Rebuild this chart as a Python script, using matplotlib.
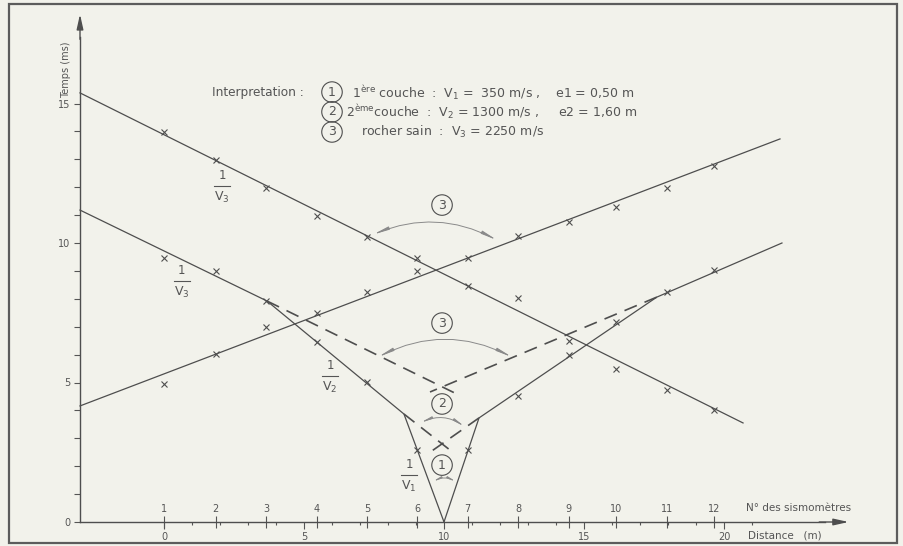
import numpy as np
import matplotlib.pyplot as plt
from matplotlib.patches import Rectangle

plt.rcParams['font.family'] = ['DejaVu Sans']

# sismometres : numero et distance (m)
sismo_num = list(range(1, 13))
sismo_dist = [0, 1.85, 3.65, 5.45, 7.25, 9.05, 10.85, 12.65, 14.45, 16.15, 17.95, 19.65]

# temps d'arrivee mesures (ms) pour les trois tirs
t_tir_gauche = [4.95, 6.02, 6.99, 7.49, 8.24, 9.0, 9.46, 10.25, 10.75, 11.29, 11.97, 12.76]
t_tir_droite = [13.98, 12.97, 11.97, 10.97, 10.2, 9.46, 8.46, 8.02, 6.49, 5.48, 4.73, 4.01]
t_tir_centre = [9.46, 9.0, 7.92, 6.45, 5.02, 2.58, 2.58, 4.52, 5.99, 7.17, 8.24, 9.03]

# droites d'interpretation (distance m, temps ms)
dr_gauche_d = [-3, 22.0]
dr_gauche_t = [4.16, 13.73]
dr_droite_d = [-3, 20.68]
dr_droite_t = [15.38, 3.55]
centre_g_d = [-3, 3.68, 8.57, 10]
centre_g_t = [11.18, 7.92, 3.87, 0]
centre_d_d = [10, 11.25, 17.6, 22.07]
centre_d_t = [0, 3.73, 8.06, 10.0]
# prolongements en tirets
ext_v3_g_d = [3.68, 10.35]
ext_v3_g_t = [7.92, 4.64]
ext_v3_d_d = [17.6, 9.5]
ext_v3_d_t = [8.06, 4.66]
ext_v2_g_d = [8.57, 10.25]
ext_v2_g_t = [3.87, 2.55]
ext_v2_d_d = [11.25, 9.6]
ext_v2_d_t = [3.73, 2.57]

dist_ticks = [0, 5, 10, 15, 20]
temps_ticks = [0, 5, 10, 15]

bg = '#f2f2eb'
c_line = '#4e4e4e'
c_txt = '#555555'
c_arc = '#8a8a8a'

fig = plt.figure(figsize=(9.04, 5.46), dpi=100, facecolor=bg)
ax = fig.add_axes([0, 0, 1, 1])
ax.set_facecolor('none')
ax.set_xlim(-164 / 28, 740 / 28)
ax.set_ylim(-24 / 27.9, 522 / 27.9)

# cadre
fig.add_artist(Rectangle((9 / 904, 3 / 546), 888 / 904, 539 / 546, transform=fig.transFigure,
                         fill=False, ec='#5c5c5c', lw=1.6))

# axes
for s in ['top', 'right']:
    ax.spines[s].set_visible(False)
ax.spines['left'].set_position(('data', -3))
ax.spines['bottom'].set_position(('data', 0))
ax.spines['left'].set_bounds(0, 17.4)
ax.spines['bottom'].set_bounds(-3, 23.6)
for s in ['left', 'bottom']:
    ax.spines[s].set_color(c_line)
    ax.spines[s].set_linewidth(1.0)
arr = dict(arrowstyle='-|>,head_length=0.9,head_width=0.2', color=c_line, lw=1.0, shrinkA=0, shrinkB=0)
ax.annotate('', xy=(24.45, 0), xytext=(23.4, 0), arrowprops=arr)
ax.annotate('', xy=(-3, 18.2), xytext=(-3, 17.3), arrowprops=arr)

ax.set_xticks(dist_ticks)
ax.set_xticks([d for d in range(1, 22) if d % 5], minor=True)
ax.set_yticks(temps_ticks)
ax.set_yticks([t for t in range(1, 15) if t % 5], minor=True)
ax.tick_params(axis='x', which='major', direction='out', length=5, width=0.8, pad=2,
               labelsize=7, colors=c_txt)
ax.tick_params(axis='x', which='minor', direction='out', length=2.5, width=0.8, colors=c_txt)
ax.tick_params(axis='y', which='both', direction='out', length=4, width=0.8, pad=3,
               labelsize=7, colors=c_txt)

# numeros des sismometres
y0, y1 = ax.get_ylim()
sec = ax.secondary_xaxis((0 - y0) / (y1 - y0))
sec.set_alignment('top')
sec.set_xticks(sismo_dist, labels=[str(n) for n in sismo_num])
sec.tick_params(direction='inout', length=9, width=0.8, pad=1, labelsize=7, colors=c_txt)
for s in sec.spines.values():
    s.set_visible(False)

ax.text(-3.5, 16.2, 'Temps (ms)', rotation=90, ha='center', va='center', fontsize=7, color=c_txt)
ax.text(20.8, 0.5, 'N° des sismomètres', ha='left', va='center', fontsize=7.5, color=c_txt)
ax.text(20.85, -0.5, 'Distance   (m)', ha='left', va='center', fontsize=7.5, color=c_txt)

# droites
kw = dict(color=c_line, lw=0.9)
ax.plot(dr_gauche_d, dr_gauche_t, **kw)
ax.plot(dr_droite_d, dr_droite_t, **kw)
ax.plot(centre_g_d, centre_g_t, **kw)
ax.plot(centre_d_d, centre_d_t, **kw)
kwd = dict(color=c_line, lw=1.2, ls=(0, (8, 5)))
ax.plot(ext_v3_g_d, ext_v3_g_t, **kwd)
ax.plot(ext_v3_d_d, ext_v3_d_t, **kwd)
ax.plot(ext_v2_g_d, ext_v2_g_t, **kwd)
ax.plot(ext_v2_d_d, ext_v2_d_t, **kwd)

# mesures
mk = dict(ls='none', marker='x', ms=5, mew=0.8, color=c_line)
ax.plot(sismo_dist, t_tir_gauche, **mk)
ax.plot(sismo_dist, t_tir_droite, **mk)
ax.plot(sismo_dist, t_tir_centre, **mk)


def fraction(x, y, sub):
    ax.text(x, y + 0.37, '1', ha='center', va='center', fontsize=8.5, color=c_txt)
    ax.plot([x - 0.28, x + 0.28], [y, y], color=c_txt, lw=0.8)
    ax.text(x, y - 0.42, r'V$_{\mathregular{%s}}$' % sub, ha='center', va='center',
            fontsize=9, color=c_txt)


fraction(2.07, 12.04, '3')
fraction(0.64, 8.64, '3')
fraction(5.93, 5.23, '2')
fraction(8.75, 1.68, '1')


def cercle(x, y, s):
    ax.text(x, y, s, ha='center', va='center', fontsize=9, color=c_txt,
            bbox=dict(boxstyle='circle,pad=0.3', fc='none', ec=c_line, lw=0.8))


def arc(p0, p1, rad, scale=10):
    ax.annotate('', xy=p1, xytext=p0,
                arrowprops=dict(arrowstyle='<|-|>,head_length=0.9,head_width=0.09',
                                connectionstyle='arc3,rad=%s' % rad, color=c_arc, lw=0.7,
                                shrinkA=0, shrinkB=0, mutation_scale=scale))


cercle(9.93, 11.36, '3')
arc((7.46, 10.3), (11.9, 10.1), -0.23)
cercle(9.93, 7.13, '3')
arc((7.64, 5.91), (12.43, 5.91), -0.25)
cercle(9.93, 4.23, '2')
arc((9.14, 3.55), (10.75, 3.41), -0.27, 7)
cercle(9.93, 2.04, '1')
arc((9.57, 1.43), (10.46, 1.43), -0.25, 5)

# interpretation
fs = 9
ax.text(1.71, 15.41, 'Interpretation :', ha='left', va='center', fontsize=8.7, color=c_txt)
cercle(6.0, 15.41, '1')
cercle(6.0, 14.70, '2')
cercle(6.0, 13.98, '3')
ax.text(6.71, 15.41,
        r'1$^{\mathregular{ère}}$ couche  :  V$_{\mathregular{1}}$ =  350 m/s ,    e1 = 0,50 m',
        ha='left', va='center', fontsize=fs, color=c_txt)
ax.text(6.5, 14.70,
        r'2$^{\mathregular{ème}}$couche  :  V$_{\mathregular{2}}$ = 1300 m/s ,     e2 = 1,60 m',
        ha='left', va='center', fontsize=fs, color=c_txt)
ax.text(7.04, 13.98, r'rocher sain  :  V$_{\mathregular{3}}$ = 2250 m/s',
        ha='left', va='center', fontsize=fs, color=c_txt)

fig.savefig('out.png', dpi=100, facecolor=bg)
